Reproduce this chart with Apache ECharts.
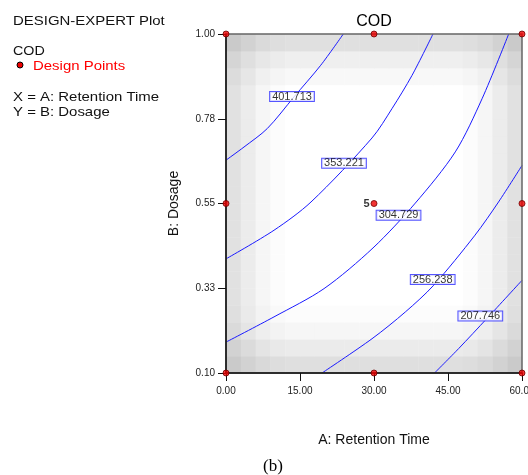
<!DOCTYPE html>
<html>
<head>
<meta charset="utf-8">
<script src="https://cdn.jsdelivr.net/npm/echarts@6/dist/echarts.min.js"></script>
<style>
html,body{margin:0;padding:0;background:#fff;}
#chart{width:528px;height:475px;}
</style>
</head>
<body>
<div id="chart"></div>
<script>
// ---------- data ----------
const xTicks = [0, 15, 30, 45, 60];
const xTickLabels = ['0.00', '15.00', '30.00', '45.00', '60.00'];
const yTicks = [0.1, 0.325, 0.55, 0.775, 1.0];
const yTickLabels = ['0.10', '0.33', '0.55', '0.78', '1.00'];

// contour lines [A, B]
const contour401 = [[0, 0.665], [3.65, 0.700], [8.37, 0.749], [13.78, 0.833], [19.2, 0.917], [23.78, 1.0]];
const contour353 = [[0, 0.403], [9.73, 0.479], [17.23, 0.554], [29.6, 0.724], [33.65, 0.802], [37.7, 0.890], [41.96, 1.0]];
const contour304 = [[0, 0.182], [9.73, 0.249], [19.87, 0.324], [29.8, 0.432], [38.37, 0.551], [46.48, 0.687], [51.9, 0.828], [57.3, 1.0]];
const contour256 = [[19.46, 0.1], [29.6, 0.191], [36.35, 0.262], [42.1, 0.333], [50.48, 0.466], [55.24, 0.554], [60, 0.651]];
const contour207 = [[42.27, 0.1], [47.17, 0.165], [52.9, 0.245], [60, 0.346]];

// contour label positions [A, B, text]
const contourLabels = [
  [13.38, 0.834, '401.713'],
  [23.92, 0.657, '353.221'],
  [34.97, 0.519, '304.729'],
  [41.9, 0.348, '256.238'],
  [51.55, 0.251, '207.746']
];

// design points [A, B, replicate label]
const designPoints = [
  [0, 0.1, ''], [30, 0.1, ''], [60, 0.1, ''],
  [0, 0.55, ''], [30, 0.55, '5'], [60, 0.55, ''],
  [0, 1.0, ''], [30, 1.0, ''], [60, 1.0, '']
];

// background shading (darkness) per column (A, left->right) and per row (B, bottom->top)
const colShade = [30, 19, 9, 3, 0, 0, 0, 0, 0, 0, 0, 0, 0, 0, 0, 0, 3, 9, 19, 30];
const rowShade = [32, 20, 9, 3, 0, 0, 0, 0, 0, 0, 0, 0, 0, 0, 0, 0, 0, 7, 16, 31];
const cellW = 3;       // A units per cell
const cellH = 0.045;   // B units per cell

// ---------- build ----------
const shadeCells = [];
for (let r = 0; r < rowShade.length; r++) {
  for (let c = 0; c < colShade.length; c++) {
    const d = colShade[c] + rowShade[r] - colShade[c] * rowShade[r] / 110;
    shadeCells.push([c * cellW + cellW / 2, 0.1 + r * cellH + cellH / 2, Math.round(255 - d)]);
  }
}

const FONT = '"Liberation Sans", Arial, sans-serif';
const chart = echarts.init(document.getElementById('chart'));

function contourSeries(data) {
  return {
    type: 'line', data: data, smooth: 0.3,
    symbol: 'none', z: 3, silent: true,
    lineStyle: { color: '#1a1aff', width: 1 }
  };
}

const option = {
  animation: false,
  backgroundColor: '#fff',
  grid: { left: 226, top: 34, right: 6, bottom: 102, show: true, z: 10,
          outerBoundsMode: 'none', containLabel: false,
          backgroundColor: 'transparent', borderColor: '#666', borderWidth: 1.5 },
  xAxis: {
    type: 'value', min: 0, max: 60, interval: 15, z: 11,
    name: 'A: Retention Time', nameLocation: 'middle', nameGap: 60,
    nameTextStyle: { fontFamily: FONT, fontSize: 14, color: '#111' },
    axisLine: { show: true, lineStyle: { color: '#111', width: 1.5 } },
    axisTick: { show: true, inside: false, length: 8, lineStyle: { color: '#111', width: 1 } },
    axisLabel: { margin: 13, fontFamily: FONT, fontSize: 10, color: '#222', showMinLabel: true, showMaxLabel: true,
      hideOverlap: false,
      formatter: v => { const i = xTicks.indexOf(v); return i >= 0 ? xTickLabels[i] : ''; } },
    splitLine: { show: false }
  },
  yAxis: {
    type: 'value', min: 0.1, max: 1.0, z: 11,
    name: 'B: Dosage', nameLocation: 'middle', nameGap: 45,
    nameTextStyle: { fontFamily: FONT, fontSize: 14, color: '#111' },
    axisLine: { show: true, lineStyle: { color: '#111', width: 1.5 } },
    axisTick: { show: true, inside: false, length: 8, customValues: yTicks, lineStyle: { color: '#111', width: 1 } },
    axisLabel: { margin: 11, fontFamily: FONT, fontSize: 10, color: '#222', customValues: yTicks,
      showMinLabel: true, showMaxLabel: true,
      formatter: v => { const i = yTicks.findIndex(t => Math.abs(t - v) < 1e-6); return i >= 0 ? yTickLabels[i] : ''; } },
    splitLine: { show: false }
  },
  series: [
    {
      type: 'custom', z: 1, silent: true, clip: true,
      data: shadeCells,
      renderItem: function (params, api) {
        const a = api.value(0), b = api.value(1), g = api.value(2);
        const p0 = api.coord([a - cellW / 2, b - cellH / 2]);
        const p1 = api.coord([a + cellW / 2, b + cellH / 2]);
        return {
          type: 'rect',
          shape: { x: p0[0], y: p1[1], width: p1[0] - p0[0] + 0.4, height: p0[1] - p1[1] + 0.4 },
          style: { fill: 'rgb(' + g + ',' + g + ',' + g + ')' }
        };
      }
    },
    contourSeries(contour401),
    contourSeries(contour353),
    contourSeries(contour304),
    contourSeries(contour256),
    contourSeries(contour207),
    {
      type: 'scatter', z: 5, silent: true, symbolSize: 0, clip: false,
      data: contourLabels,
      label: {
        show: true, position: 'inside', formatter: p => p.value[2],
        fontFamily: FONT, fontSize: 11, color: '#000',
        backgroundColor: '#fff', borderColor: '#2a2aff', borderWidth: 1,
        padding: [0, 2, 0, 2], lineHeight: 9
      }
    },
    {
      type: 'scatter', z: 20, silent: true, clip: false,
      symbol: 'circle', symbolSize: 6,
      itemStyle: { color: '#ee0000', borderColor: '#700000', borderWidth: 1 },
      data: designPoints,
      label: { show: true, position: 'left', distance: 1, formatter: p => p.value[2],
               fontFamily: FONT, fontSize: 11, fontWeight: 'bold', color: '#000' }
    }
  ],
  graphic: [
    { type: 'text', x: 374, y: 22, style: { text: 'COD', fontFamily: FONT, fontSize: 16, fill: '#000', textAlign: 'center', textVerticalAlign: 'middle' } },
    { type: 'text', x: 13, y: 21, scaleX: 1.15, style: { text: 'DESIGN-EXPERT Plot', fontFamily: FONT, fontSize: 13, fill: '#111', textVerticalAlign: 'middle' } },
    { type: 'text', x: 13, y: 51, scaleX: 1.1, style: { text: 'COD', fontFamily: FONT, fontSize: 13, fill: '#111', textVerticalAlign: 'middle' } },
    { type: 'circle', shape: { cx: 20, cy: 65, r: 3 }, style: { fill: '#ee0000', stroke: '#000', lineWidth: 1 } },
    { type: 'text', x: 33, y: 66, scaleX: 1.15, style: { text: 'Design Points', fontFamily: FONT, fontSize: 13, fill: '#ff0000', textVerticalAlign: 'middle' } },
    { type: 'text', x: 13, y: 97.5, scaleX: 1.15, style: { text: 'X = A: Retention Time', fontFamily: FONT, fontSize: 13, fill: '#111', textVerticalAlign: 'middle' } },
    { type: 'text', x: 13, y: 112, scaleX: 1.15, style: { text: 'Y = B: Dosage', fontFamily: FONT, fontSize: 13, fill: '#111', textVerticalAlign: 'middle' } },
    { type: 'text', x: 273, y: 467, style: { text: '(b)', fontFamily: '"Liberation Serif", "Times New Roman", serif', fontSize: 17, fill: '#000', textAlign: 'center', textVerticalAlign: 'middle' } }
  ]
};
chart.setOption(option);
</script>
</body>
</html>
